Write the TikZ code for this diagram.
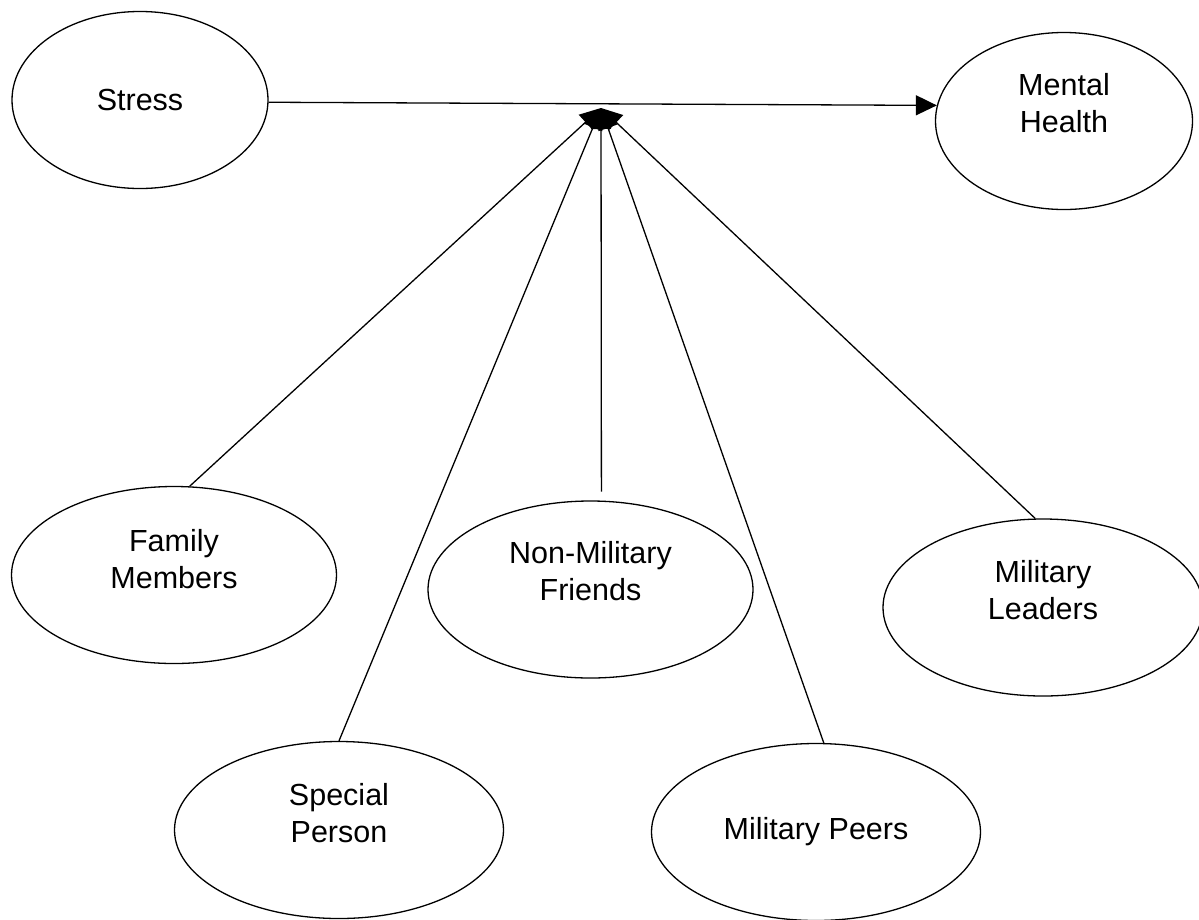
\documentclass[tikz,border=0pt]{standalone}
\usepackage{fontspec}
\setmainfont{Liberation Sans}
\usetikzlibrary{arrows.meta,shapes.geometric}

\begin{document}
\begin{tikzpicture}[x=1pt, y=-1pt,
    oval/.style={draw, ellipse, line width=1.3pt, inner sep=0pt, minimum width=325pt, minimum height=177pt},
    lbl/.style={font=\fontsize{30.5pt}{37pt}\selectfont, align=center},
    conn/.style={line width=1.3pt, -{Triangle[length=21pt, width=20pt]}}]
    \useasboundingbox (0,0) rectangle (1199,919);
    % Top row
    \node[oval, minimum width=256pt, label={[lbl]center:Stress}] (str) at (140,100) {};
    \node[oval, minimum width=257pt, label={[lbl, yshift=18pt]center:Mental\\Health}] (mh) at (1064,121) {};
    % Support sources
    \node[oval, label={[lbl, yshift=16pt]center:Family\\Members}] (fam) at (174,575) {};
    \node[oval, label={[lbl, yshift=18pt]center:Non-Military\\Friends}] (nmf) at (590.5,589.5) {};
    \node[oval, minimum width=320pt, label={[lbl, yshift=17pt]center:Military\\Leaders}] (ml) at (1043,607.5) {};
    \node[oval, minimum width=329pt, label={[lbl, yshift=17pt]center:Special\\Person}] (sp) at (339,830) {};
    \node[oval, minimum width=329pt, label={[lbl]center:Military Peers}] (pe) at (816,832) {};
    % Main path
    \coordinate (hub) at (601,108);
    \draw[conn] (str.-1.5) -- (mh.173);
    % Moderators
    \draw[conn] (fam.80) -- (hub);
    \draw[conn] (sp.north) -- (hub);
    \draw[conn, shorten <=9pt] (nmf.83) -- (hub);
    \draw[conn] (pe.85) -- (hub);
    \draw[conn] (ml.95) -- (hub);
\end{tikzpicture}
\end{document}
